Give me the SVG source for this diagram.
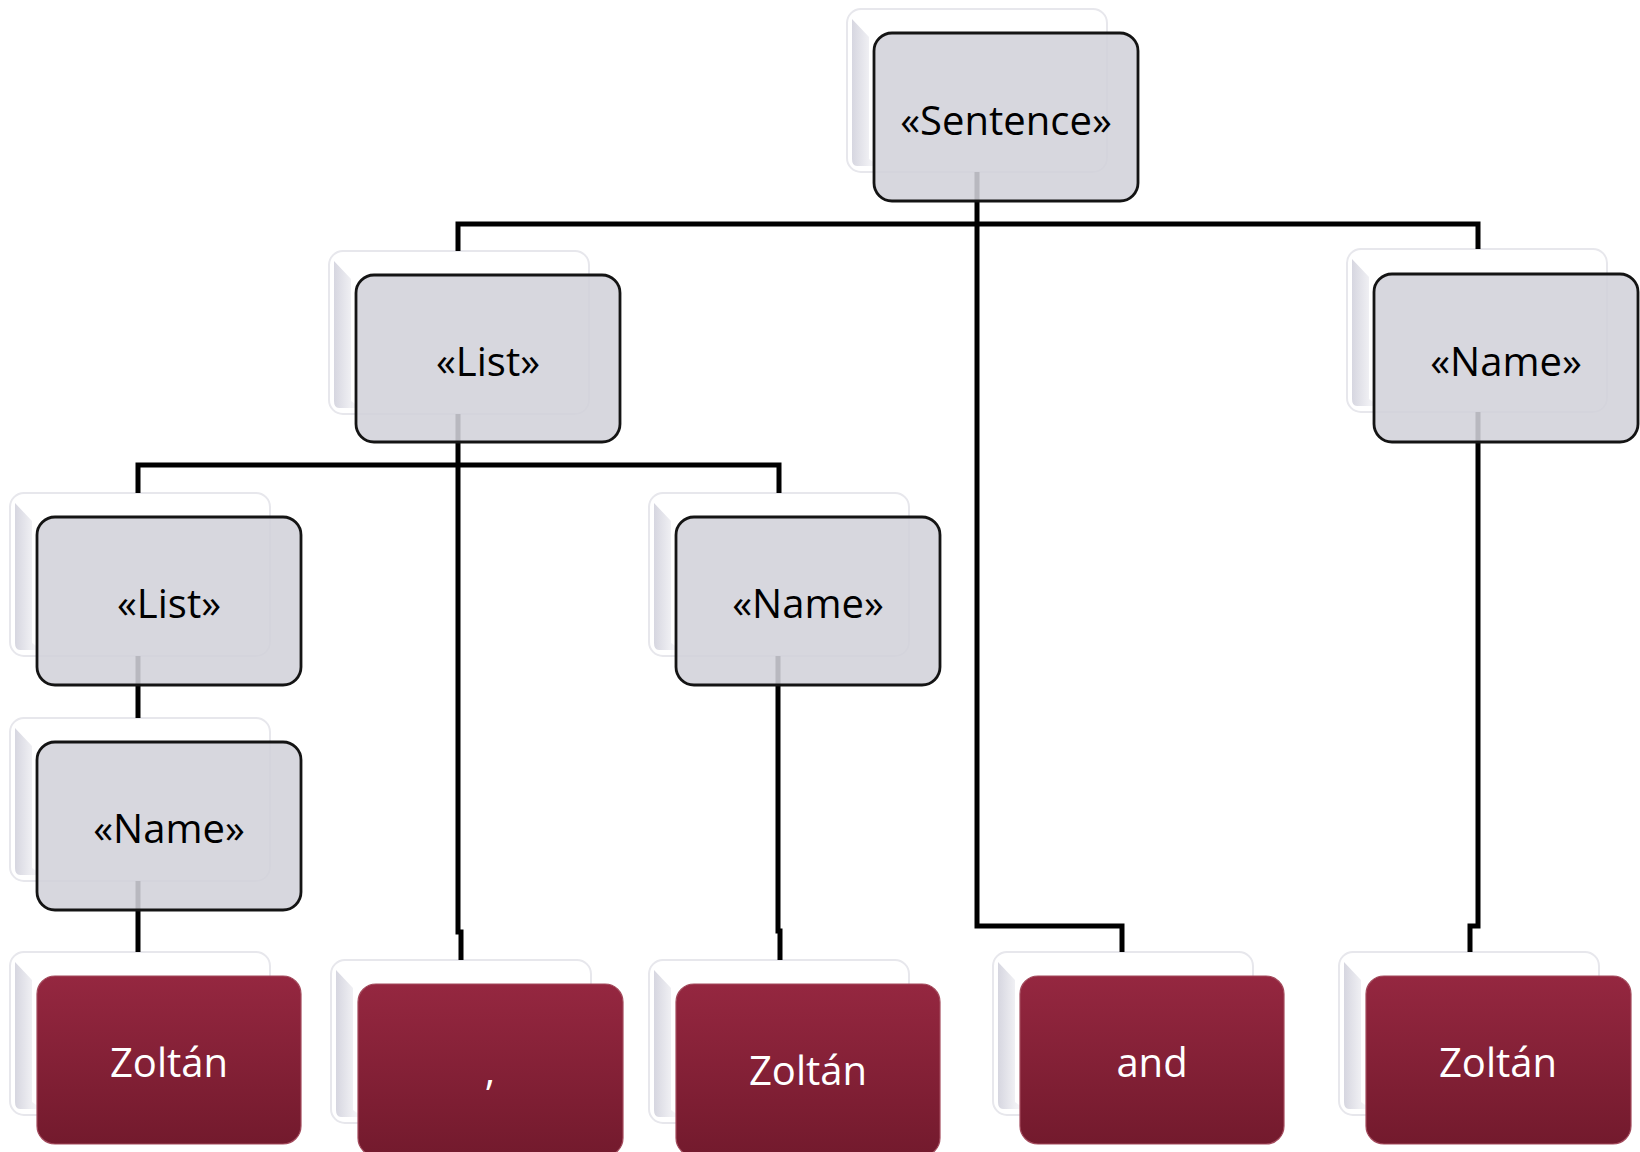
<svg xmlns="http://www.w3.org/2000/svg" width="1640" height="1152" viewBox="0 0 1640 1152">
<defs>
<linearGradient id="leftShade" x1="0" y1="0" x2="1" y2="0">
<stop offset="0" stop-color="#d6d6e0"/>
<stop offset="1" stop-color="#ffffff"/>
</linearGradient>
<linearGradient id="redFill" x1="0" y1="0" x2="0" y2="1">
<stop offset="0" stop-color="#952740"/>
<stop offset="1" stop-color="#731a2d"/>
</linearGradient>
<symbol id="back" overflow="visible">
<rect x="0" y="0" width="260" height="163" rx="14" fill="#ffffff" stroke="#e7e7ec" stroke-width="2"/>
<path d="M5,10 L22,28 L22,150 L32,157 L10,157 Q5,157 5,150 Z" fill="url(#leftShade)"/>
</symbol>
<style>
.gray{fill:#d2d1da;fill-opacity:0.88;stroke:#141414;stroke-width:2.8}
.red{fill:url(#redFill);stroke:#a34a5c;stroke-width:1.2}
.conn{fill:none;stroke:#000;stroke-width:5;stroke-linejoin:miter}
.t{font-family:"Open Sans","Liberation Sans",sans-serif;font-size:40px;text-anchor:middle;dominant-baseline:central}
.tb{fill:#000}
.tw{fill:#fff}
</style>
</defs>
<rect width="1640" height="1152" fill="#ffffff"/>

<g id="backs">
<use href="#back" x="847" y="9"/>
<use href="#back" x="329" y="251"/>
<use href="#back" x="1347" y="249"/>
<use href="#back" x="10" y="493"/>
<use href="#back" x="649" y="493"/>
<use href="#back" x="10" y="718"/>
<use href="#back" x="10" y="952"/>
<use href="#back" x="331" y="960"/>
<use href="#back" x="649" y="960"/>
<use href="#back" x="993" y="952"/>
<use href="#back" x="1339" y="952"/>
</g>

<g id="connectors">
<path class="conn" d="M977,172 V926 H1122 V952"/>
<path class="conn" d="M458,251 V224 H1478 V249"/>
<path class="conn" d="M458,414 V932 H461 V960"/>
<path class="conn" d="M138,493 V465 H779 V493"/>
<path class="conn" d="M138,656 V718"/>
<path class="conn" d="M138,881 V952"/>
<path class="conn" d="M778,656 V931 H780 V960"/>
<path class="conn" d="M1478,412 V926 H1470 V952"/>
</g>

<g id="n-sentence">
<rect class="gray" x="874" y="33" width="264" height="168" rx="18"/>
<text class="t tb" x="1006" y="119">«Sentence»</text>
</g>
<g id="n-list-a">
<rect class="gray" x="356" y="275" width="264" height="167" rx="18"/>
<text class="t tb" x="488" y="360">«List»</text>
</g>
<g id="n-name-r">
<rect class="gray" x="1374" y="274" width="264" height="168" rx="18"/>
<text class="t tb" x="1506" y="360">«Name»</text>
</g>
<g id="n-list-b">
<rect class="gray" x="37" y="517" width="264" height="168" rx="18"/>
<text class="t tb" x="169" y="602">«List»</text>
</g>
<g id="n-name-m">
<rect class="gray" x="676" y="517" width="264" height="168" rx="18"/>
<text class="t tb" x="808" y="602">«Name»</text>
</g>
<g id="n-name-l">
<rect class="gray" x="37" y="742" width="264" height="168" rx="18"/>
<text class="t tb" x="169" y="827">«Name»</text>
</g>
<g id="leaf-zoltan-1">
<rect class="red" x="37" y="976" width="264" height="168" rx="18"/>
<text class="t tw" x="169" y="1061">Zoltán</text>
</g>
<g id="leaf-comma">
<rect class="red" x="358" y="984" width="265" height="172" rx="18"/>
<text class="t tw" x="490" y="1069">,</text>
</g>
<g id="leaf-zoltan-2">
<rect class="red" x="676" y="984" width="264" height="172" rx="18"/>
<text class="t tw" x="808" y="1069">Zoltán</text>
</g>
<g id="leaf-and">
<rect class="red" x="1020" y="976" width="264" height="168" rx="18"/>
<text class="t tw" x="1152" y="1061">and</text>
</g>
<g id="leaf-zoltan-3">
<rect class="red" x="1366" y="976" width="265" height="168" rx="18"/>
<text class="t tw" x="1498" y="1061">Zoltán</text>
</g>
</svg>
